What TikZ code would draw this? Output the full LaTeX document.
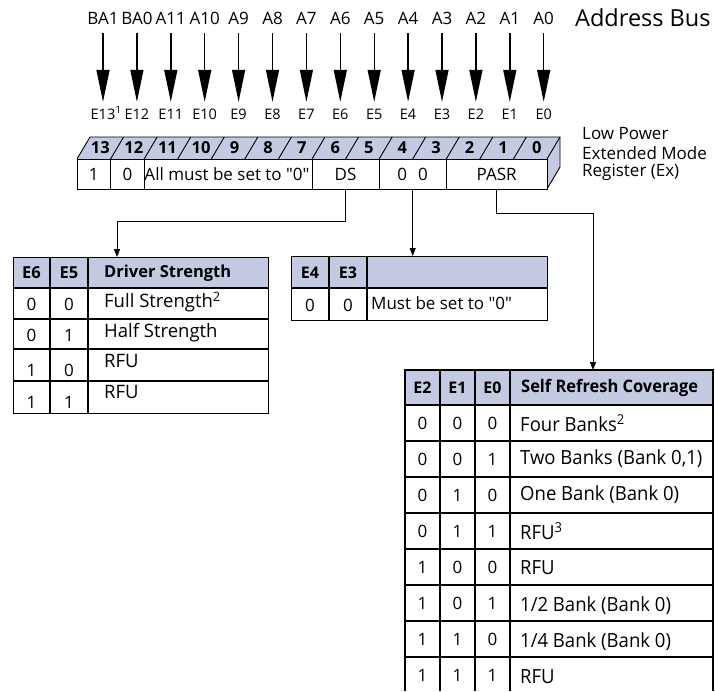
\documentclass[tikz,border=0pt]{standalone}
\usepackage{fontspec}
\newfontfamily\osf{Open Sans}
\newfontfamily\condfont[FakeStretch=0.95]{Open Sans}
\usetikzlibrary{arrows.meta,calc}
\definecolor{regblue}{RGB}{196,202,226}
\begin{document}
\begin{tikzpicture}[x=1pt,y=-1pt,
  buslbl/.style={inner sep=0pt,text height=12pt,text depth=0pt,font=\osf\fontsize{17}{20}\selectfont},
  elbl/.style={inner sep=0pt,text height=10pt,text depth=0pt,font=\osf\fontsize{14.5}{17}\selectfont},
  busarrow/.style={line width=1.4pt,-{Triangle[width=13pt,length=32pt]},shorten <=9pt,shorten >=7pt},
  regnum/.style={inner sep=0pt,font=\osf\bfseries\fontsize{16.5}{19}\selectfont},
  cellnode/.style={inner sep=0pt,minimum height=30pt,font=\osf\fontsize{17}{20}\selectfont},
  reglbl/.style={inner sep=0pt,anchor=west,font=\osf\fontsize{17}{20}\selectfont},
  conn/.style={line width=0.9pt,-{Triangle[width=6pt,length=8pt]}},
  plain/.style={line width=0.9pt},
  tab/.style={line width=1.1pt},
  tabframe/.style={draw,line width=1.1pt,inner sep=0pt,anchor=north west},
  lth/.style={inner sep=0pt,font=\osf\bfseries\fontsize{16.5}{19}\selectfont},
  ltd/.style={inner sep=0pt,font=\osf\fontsize{18.5}{21}\selectfont},
  ldig/.style={inner sep=0pt,font=\osf\fontsize{17}{20}\selectfont},
  mth/.style={inner sep=0pt,font=\osf\bfseries\fontsize{16}{19}\selectfont},
  mtd/.style={inner sep=0pt,font=\osf\fontsize{17}{20}\selectfont},
  rth/.style={inner sep=0pt,font=\osf\bfseries\fontsize{16}{19}\selectfont},
  rdig/.style={inner sep=0pt,font=\osf\fontsize{17}{20}\selectfont},
  tdc/.style={inner sep=0pt,font=\condfont\fontsize{19.5}{23}\selectfont},
  thc/.style={inner sep=0pt,font=\condfont\bfseries\fontsize{17.3}{21}\selectfont}
]
\useasboundingbox (0,0) rectangle (715,691);

% ---------- address bus ----------
\foreach \lbl [count=\i from 0] in {BA1,BA0,A11,A10,A9,A8,A7,A6,A5,A4,A3,A2,A1,A0} {
  \pgfmathsetmacro\xx{103+33.9*\i}
  \node[buslbl] (a\i) at (\xx,18) {\lbl};
}
\foreach \lbl [count=\i from 0] in {{E13\rlap{\textsuperscript{1}}},E12,E11,E10,E9,E8,E7,E6,E5,E4,E3,E2,E1,E0} {
  \pgfmathsetmacro\xx{103+33.9*\i}
  \node[elbl] (e\i) at (\xx,114) {\lbl};
}
\foreach \i in {0,...,13} { \draw[busarrow] (a\i) -- (e\i); }
\node[inner sep=0pt,anchor=west,font=\osf\fontsize{23.5}{28}\selectfont] (bus) at (575,18) {Address Bus};

% ---------- register ----------
\fill[regblue] (77,159) -- (90,137) -- (560,137) -- (547,159) -- cycle;
\fill[regblue] (547,159) -- (560,137) -- (560,167) -- (547,189) -- cycle;
\draw[plain] (77,159) -- (90,137) -- (560,137) -- (560,167) -- (547,189);
\draw[plain] (547,159) -- (560,137);
\draw[plain,fill=white] (77,159) rectangle (547,189);
\foreach \i in {1,...,13} { \draw[plain] (77+33.57*\i,159) -- (90+33.57*\i,137); }
\foreach \n [count=\i from 0] in {13,12,11,10,9,8,7,6,5,4,3,2,1,0} {
  \node[regnum] (r\n) at (77+33.57*\i+16.8+6.5,148) {\n};
}
\foreach \i in {1,2,7,9,11} { \draw[plain] (77+33.57*\i,159) -- (77+33.57*\i,189); }
\node[cellnode,minimum width=33.5pt] (f13) at (93.8,174) {1};
\node[cellnode,minimum width=33.5pt] (f12) at (127.4,174) {0};
\node[cellnode,minimum width=167pt] (fall) at (227,174) {All must be set to "0"};
\node[cellnode,minimum width=67pt] (ds) at (345.6,174) {DS};
\node[cellnode,minimum width=67pt] (zz) at (412.7,174) {0\hspace{11pt}0};
\node[cellnode,minimum width=100pt] (pasr) at (496.7,174) {PASR};
\node[reglbl] (lp1) at (582,134) {Low Power};
\node[reglbl] (lp2) at (582,153) {Extended Mode};
\node[reglbl] (lp3) at (582,172) {Register (Ex)};

% ---------- left table ----------
\fill[regblue] (13,257) rectangle (268,288);
\node[tabframe,minimum width=255pt,minimum height=156pt] (ltab) at (13,257) {};
\foreach \yy in {288,319,349,381} { \draw[tab] (13,\yy) -- (268,\yy); }
\foreach \xx in {50,88} { \draw[tab] (\xx,257) -- (\xx,413); }
\node[lth] at (31.5,273) {E6};
\node[lth] at (69,273) {E5};
\node[lth,anchor=west] at (104,273) {Driver Strength};
\node[ldig] at (31.5,304.5) {0}; \node[ldig] at (69,304.5) {0};
\node[ltd,anchor=west] at (104,302) {Full Strength\textsuperscript{2}};
\node[ldig] at (31.5,335) {0}; \node[ldig] at (69,335) {1};
\node[ltd,anchor=west] at (104,333) {Half Strength};
\node[ldig] at (31.5,370) {1}; \node[ldig] at (69,370) {0};
\node[ltd,anchor=west] at (104,361) {RFU};
\node[ldig] at (31.5,402) {1}; \node[ldig] at (69,402) {1};
\node[ltd,anchor=west] at (104,392) {RFU};

% ---------- middle table ----------
\fill[regblue] (291,256) rectangle (547,288);
\node[tabframe,minimum width=256pt,minimum height=64pt] (mtab) at (291,256) {};
\draw[tab] (291,288) -- (547,288);
\foreach \xx in {329,367} { \draw[tab] (\xx,256) -- (\xx,320); }
\node[mth] at (310,272.5) {E4};
\node[mth] at (348,272.5) {E3};
\node[ldig] at (310,305) {0}; \node[ldig] at (348,305) {0};
\node[mtd,anchor=west] at (371,303) {Must be set to "0"};

% ---------- right table ----------
\fill[regblue] (405,370) rectangle (713,405);
\draw[tab] (405,691) -- (405,370) -- (713,370) -- (713,691);
\foreach \yy in {405,441,477,513,549,585,621,657} { \draw[tab] (405,\yy) -- (713,\yy); }
\foreach \xx in {440,475,510} { \draw[tab] (\xx,370) -- (\xx,691); }
\coordinate (rtin) at (593,370);
\node[rth] at (422.5,388) {E2};
\node[rth] at (457.5,388) {E1};
\node[rth] at (492.5,388) {E0};
\node[thc,anchor=west] at (521,388) {Self Refresh Coverage};
\foreach \a/\b/\c/\t/\dy [count=\i from 0] in {0/0/0/{Four Banks\textsuperscript{2}}/0,0/0/1/{Two Banks (Bank 0,1)}/0,0/1/0/{One Bank (Bank 0)}/0,0/1/1/{RFU\textsuperscript{3}}/0,1/0/0/RFU/1,1/0/1/{1/2 Bank (Bank 0)}/3,1/1/0/{1/4 Bank (Bank 0)}/3,1/1/1/RFU/2} {
  \pgfmathsetmacro\yy{423+36*\i}
  \node[rdig] at (422.5,\yy) {\a};
  \node[rdig] at (457.5,\yy) {\b};
  \node[rdig] at (492.5,\yy) {\c};
  \node[tdc,anchor=west] at (520,\yy+\dy) {\t};
}

% ---------- connectors ----------
\coordinate (ltin) at (117,257);
\draw[conn] (ds.south) -- ++(0,32) -| (ltin);
\draw[conn] (zz.south) -- (zz.south |- mtab.north);
\draw[conn] (pasr.south) -- ++(0,24) -| (rtin);
\end{tikzpicture}
\end{document}
